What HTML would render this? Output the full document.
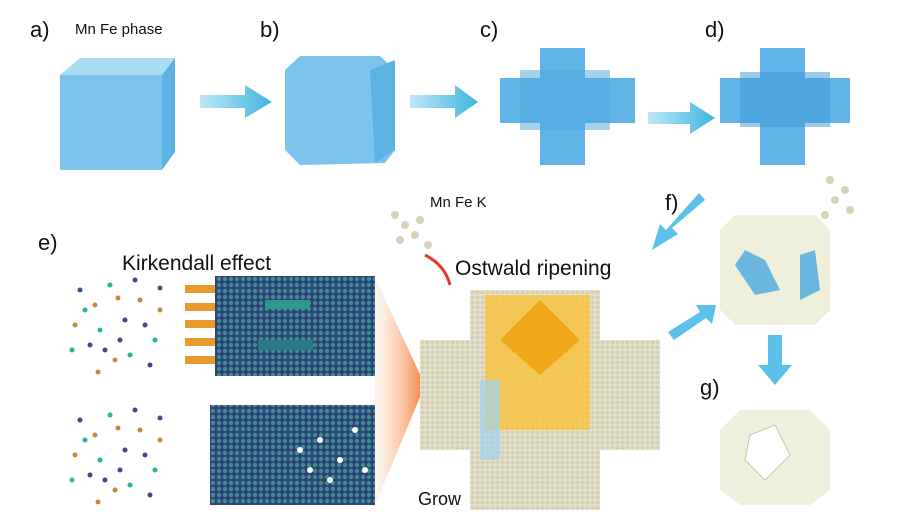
<!DOCTYPE html>
<html><head><meta charset="utf-8"><style>
body{margin:0;background:#fff}
svg{display:block}
text{font-family:"Liberation Sans",sans-serif;fill:#111}
</style></head><body>
<svg width="902" height="526" viewBox="0 0 902 526" xmlns="http://www.w3.org/2000/svg">
<defs>
<linearGradient id="arr" x1="0" x2="1"><stop offset="0" stop-color="#bfe7f5"/><stop offset="1" stop-color="#3fb4e0"/></linearGradient>
<linearGradient id="fan" x1="1" x2="0"><stop offset="0" stop-color="#f47a3a"/><stop offset="1" stop-color="#fde0cc" stop-opacity="0.3"/></linearGradient>
<pattern id="hex" width="6" height="6" patternUnits="userSpaceOnUse"><rect width="6" height="6" fill="#2e3f7a"/><circle cx="3" cy="3" r="2.2" fill="#3c8f8a"/></pattern>
<pattern id="sand" width="5" height="5" patternUnits="userSpaceOnUse"><rect width="5" height="5" fill="#e6e3cf"/><circle cx="2.5" cy="2.5" r="2" fill="#d5d1b6"/></pattern>
</defs>
<text x="30" y="37" font-size="22">a)</text>
<text x="75" y="34" font-size="15">Mn Fe phase</text>
<text x="260" y="37" font-size="22">b)</text>
<text x="480" y="37" font-size="22">c)</text>
<text x="705" y="37" font-size="22">d)</text>
<polygon points="60,75 80,58 175,58 162,75" fill="#a8dcf5"/>
<polygon points="162,75 175,58 175,152 162,170" fill="#5bb2e3"/>
<rect x="60" y="75" width="102" height="95" fill="#7cc4ee"/>
<polygon points="200,95 245,95 245,85 272,102 245,118 245,108 200,108" fill="url(#arr)"/>
<polygon points="285,70 300,56 380,56 395,70 395,150 385,163 300,165 285,150" fill="#7cc4ee"/>
<polygon points="370,70 395,60 395,150 375,163" fill="#5bb2e3"/>
<polygon points="410,95 455,95 455,85 478,102 455,118 455,108 410,108" fill="url(#arr)"/>
<path d="M540,48h45v30h50v45h-50v42h-45v-42h-40v-45h40z" fill="#5fb3e6"/>
<rect x="520" y="70" width="90" height="60" fill="#4fa5dc" opacity="0.5"/>
<polygon points="648,112 690,112 690,102 715,118 690,134 690,124 648,124" fill="url(#arr)"/>
<path d="M760,48h45v30h45v45h-45v42h-45v-42h-40v-45h40z" fill="#5fb3e6"/>
<rect x="740" y="72" width="90" height="55" fill="#3f98d4" opacity="0.5"/>
<text x="38" y="250" font-size="22">e)</text>
<text x="122" y="270" font-size="21">Kirkendall effect</text>
<rect x="215" y="276" width="160" height="100" fill="url(#hex)"/>
<rect x="210" y="405" width="165" height="100" fill="url(#hex)"/>
<g fill="#fff"><circle cx="300" cy="450" r="3"/><circle cx="320" cy="440" r="3"/><circle cx="340" cy="460" r="3"/><circle cx="355" cy="430" r="3"/><circle cx="330" cy="480" r="3"/><circle cx="365" cy="470" r="3"/><circle cx="310" cy="470" r="3"/></g>
<g fill="#e89a2c"><rect x="185" y="285" width="30" height="8"/><rect x="185" y="303" width="30" height="8"/><rect x="185" y="320" width="30" height="8"/><rect x="185" y="338" width="30" height="8"/><rect x="185" y="356" width="30" height="8"/></g>
<rect x="265" y="300" width="45" height="9" fill="#2a9a8a"/>
<rect x="258" y="340" width="55" height="10" fill="#2a7a8a"/>
<polygon points="375,278 425,385 375,505" fill="url(#fan)"/>
<path d="M470,290h130v50h60v110h-60v60h-130v-60h-50v-110h50z" fill="url(#sand)"/>
<polygon points="485,295 590,295 590,430 485,430" fill="#f6c344" opacity="0.85"/>
<polygon points="540,300 580,340 540,375 500,340" fill="#f0a818"/>
<rect x="480" y="380" width="20" height="80" fill="#9ed3ee" opacity="0.7"/>
<text x="430" y="207" font-size="15">Mn Fe K</text>
<text x="455" y="275" font-size="21">Ostwald ripening</text>
<text x="418" y="505" font-size="18">Grow</text>
<g fill="#d9d2b8"><circle cx="395" cy="215" r="4"/><circle cx="405" cy="225" r="4"/><circle cx="415" cy="235" r="4"/><circle cx="400" cy="240" r="4"/><circle cx="420" cy="220" r="4"/><circle cx="428" cy="245" r="4"/></g>
<path d="M425,255 Q445,265 450,285" stroke="#e03a2a" stroke-width="3" fill="none"/>
<text x="665" y="210" font-size="22">f)</text>
<polygon points="705,200 672,228 678,234 652,250 660,224 666,230 699,193" fill="#5cc0e8"/>
<path d="M735,215h80l15,15v80l-15,15h-80l-15,-15v-80z" fill="#eff0dc"/>
<path d="M745,250l20,10l15,30l-25,5l-20,-30z" fill="#4aa8de" opacity="0.8"/>
<path d="M800,255l15,-5l5,40l-20,10z" fill="#4aa8de" opacity="0.8"/>
<polygon points="668,332 700,312 696,305 716,305 712,324 706,318 674,340" fill="#5cc0e8"/>
<rect x="768" y="335" width="14" height="30" fill="#5cc0e8"/><polygon points="758,365 792,365 775,385" fill="#5cc0e8"/>
<text x="700" y="395" font-size="22">g)</text>
<path d="M740,410h70l20,20v60l-20,15h-70l-20,-15v-60z" fill="#eff0dc"/>
<polygon points="750,435 775,425 790,455 765,480 745,460" fill="#ffffff" stroke="#c8c9b0"/>
<g fill="#d9d2b8"><circle cx="830" cy="180" r="4"/><circle cx="845" cy="190" r="4"/><circle cx="835" cy="200" r="4"/><circle cx="850" cy="210" r="4"/><circle cx="825" cy="215" r="4"/></g>
<g id="dc">
<circle cx="80" cy="290" r="2.5" fill="#3a4a8a"/><circle cx="95" cy="305" r="2.5" fill="#c8883a"/><circle cx="110" cy="285" r="2.5" fill="#2ab59a"/><circle cx="125" cy="320" r="2.5" fill="#3a4a8a"/><circle cx="140" cy="300" r="2.5" fill="#c8883a"/><circle cx="155" cy="340" r="2.5" fill="#2ab59a"/><circle cx="90" cy="345" r="2.5" fill="#3a4a8a"/><circle cx="115" cy="360" r="2.5" fill="#c8883a"/><circle cx="150" cy="365" r="2.5" fill="#3a4a8a"/><circle cx="75" cy="325" r="2.5" fill="#c8883a"/><circle cx="135" cy="280" r="2.5" fill="#3a4a8a"/><circle cx="100" cy="330" r="2.5" fill="#2ab59a"/><circle cx="160" cy="310" r="2.5" fill="#c8883a"/><circle cx="120" cy="340" r="2.5" fill="#3a4a8a"/>
<circle cx="85" cy="310" r="2.5" fill="#2ab59a"/><circle cx="105" cy="350" r="2.5" fill="#3a4a8a"/><circle cx="130" cy="355" r="2.5" fill="#2ab59a"/><circle cx="145" cy="325" r="2.5" fill="#3a4a8a"/><circle cx="118" cy="298" r="2.5" fill="#c8883a"/><circle cx="72" cy="350" r="2.5" fill="#2ab59a"/><circle cx="160" cy="288" r="2.5" fill="#3a4a8a"/><circle cx="98" cy="372" r="2.5" fill="#c8883a"/>
</g>
<use href="#dc" x="0" y="130"/>
</svg>
</body></html>
